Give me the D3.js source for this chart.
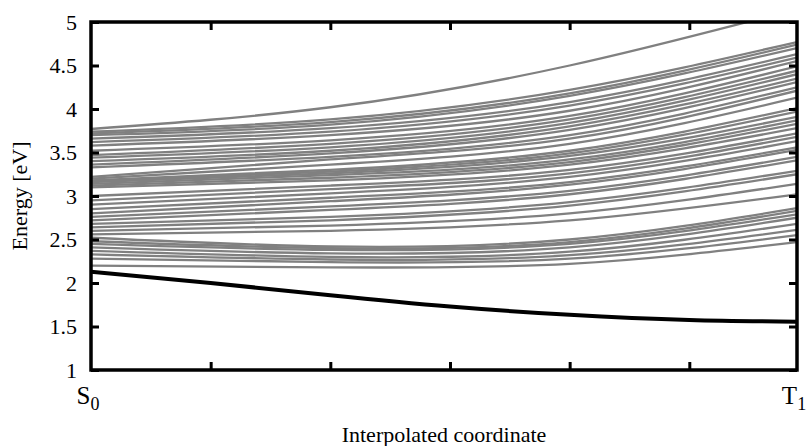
<!DOCTYPE html>
<html>
<head>
<meta charset="utf-8">
<script src="https://cdn.jsdelivr.net/npm/d3@7"></script>
<style>
body { margin: 0; background: #fff; }
text { font-family: "Liberation Serif", "DejaVu Serif", serif; fill: #000; }
</style>
</head>
<body>
<svg id="chart" width="808" height="446"></svg>
<script>
// sample positions along the interpolated coordinate
var xs = [0, 2, 4, 5.9];
var xTicks = [1, 2, 3, 4, 5];
var yTicks = [1, 1.5, 2, 2.5, 3, 3.5, 4, 4.5, 5];

// lowest state (black)
var groundX = [0, 1, 2, 3, 4, 5, 5.9];
var ground = [2.13, 2.00, 1.86, 1.73, 1.635, 1.575, 1.555];

// higher states (grey), values at xs
var states = [
    [3.77, 4.02, 4.50, 5.15],
    [3.74, 3.88, 4.22, 4.77],
    [3.72, 3.85, 4.18, 4.74],
    [3.70, 3.82, 4.15, 4.70],
    [3.66, 3.78, 4.08, 4.63],
    [3.62, 3.74, 4.04, 4.59],
    [3.58, 3.70, 3.98, 4.55],
    [3.52, 3.64, 3.92, 4.49],
    [3.47, 3.60, 3.88, 4.44],
    [3.44, 3.56, 3.84, 4.40],
    [3.40, 3.52, 3.80, 4.35],
    [3.36, 3.49, 3.76, 4.31],
    [3.33, 3.45, 3.70, 4.25],
    [3.22, 3.42, 3.66, 4.21],
    [3.20, 3.36, 3.60, 4.13],
    [3.18, 3.30, 3.52, 4.01],
    [3.17, 3.28, 3.49, 3.97],
    [3.16, 3.26, 3.46, 3.91],
    [3.14, 3.24, 3.42, 3.87],
    [3.12, 3.21, 3.39, 3.83],
    [3.10, 3.18, 3.36, 3.78],
    [3.00, 3.12, 3.30, 3.72],
    [2.95, 3.08, 3.26, 3.68],
    [2.90, 3.03, 3.22, 3.63],
    [2.85, 2.98, 3.16, 3.56],
    [2.80, 2.94, 3.13, 3.53],
    [2.76, 2.88, 3.06, 3.45],
    [2.72, 2.84, 3.02, 3.41],
    [2.68, 2.76, 2.93, 3.29],
    [2.64, 2.72, 2.89, 3.25],
    [2.60, 2.66, 2.80, 3.14],
    [2.56, 2.60, 2.72, 3.02],
    [2.52, 2.42, 2.50, 2.86],
    [2.48, 2.40, 2.47, 2.83],
    [2.45, 2.38, 2.45, 2.79],
    [2.41, 2.34, 2.41, 2.75],
    [2.37, 2.30, 2.36, 2.68],
    [2.33, 2.27, 2.32, 2.61],
    [2.28, 2.24, 2.28, 2.55],
    [2.20, 2.18, 2.22, 2.47]
];

var serif = '"Liberation Serif", "DejaVu Serif", serif';

var margin = {top: 22, right: 11, bottom: 76, left: 91},
    width = 808 - margin.left - margin.right,
    height = 446 - margin.top - margin.bottom;

var svg = d3.select("#chart");
var g = svg.append("g")
    .attr("transform", "translate(" + margin.left + "," + margin.top + ")");

var x = d3.scaleLinear().domain([0, 5.9]).range([0, width]);
var y = d3.scaleLinear().domain([1, 5]).range([height, 0]);

g.append("clipPath").attr("id", "clip")
    .append("rect").attr("width", width).attr("height", height);

var line = d3.line()
    .x(function (d) { return x(d[0]); })
    .y(function (d) { return y(d[1]); })
    .curve(d3.curveNatural);

var plot = g.append("g").attr("clip-path", "url(#clip)");

plot.selectAll(".state")
    .data(states)
    .enter().append("path")
    .attr("class", "state")
    .attr("fill", "none")
    .attr("stroke", "#808080")
    .attr("stroke-width", 2.3)
    .attr("d", function (d) {
        return line(d.map(function (v, i) { return [xs[i], v]; }));
    });

plot.append("path")
    .attr("fill", "none")
    .attr("stroke", "#000")
    .attr("stroke-width", 4)
    .attr("d", line(ground.map(function (v, i) { return [groundX[i], v]; })));

// axes with inward ticks
function styleAxis(sel) {
    sel.attr("font-family", serif);
    sel.select(".domain").remove();
    sel.selectAll(".tick line").attr("stroke", "#000").attr("stroke-width", 3);
}

g.append("g")
    .call(d3.axisLeft(y).tickValues(yTicks).tickSize(-8).tickPadding(14)
        .tickFormat(d3.format("")))
    .call(styleAxis)
    .selectAll("text")
    .style("font-family", serif)
    .style("font-size", "22px");

g.append("g")
    .attr("transform", "translate(" + width + ",0)")
    .call(d3.axisRight(y).tickValues(yTicks).tickSize(-8).tickFormat(""))
    .call(styleAxis);

g.append("g")
    .attr("transform", "translate(0," + height + ")")
    .call(d3.axisBottom(x).tickValues(xTicks).tickSize(-8).tickFormat(""))
    .call(styleAxis);

g.append("g")
    .call(d3.axisTop(x).tickValues(xTicks).tickSize(-8).tickFormat(""))
    .call(styleAxis);

g.append("rect")
    .attr("width", width)
    .attr("height", height)
    .attr("fill", "none")
    .attr("stroke", "#000")
    .attr("stroke-width", 3.5);

// end point labels
var ends = [{name: "S", sub: "0", v: 0}, {name: "T", sub: "1", v: 5.9}];
ends.forEach(function (e) {
    var t = g.append("text")
        .attr("x", x(e.v) - 3)
        .attr("y", height + 34)
        .attr("text-anchor", "middle")
        .style("font-size", "25px");
    t.append("tspan").text(e.name);
    t.append("tspan").attr("dy", 6).style("font-size", "18px").text(e.sub);
});

svg.append("text")
    .attr("x", margin.left + width / 2)
    .attr("y", 442)
    .attr("text-anchor", "middle")
    .style("font-size", "22px")
    .text("Interpolated coordinate");

svg.append("text")
    .attr("transform", "translate(27," + (margin.top + height / 2) + ") rotate(-90)")
    .attr("text-anchor", "middle")
    .style("font-size", "22px")
    .text("Energy [eV]");
</script>
</body>
</html>
